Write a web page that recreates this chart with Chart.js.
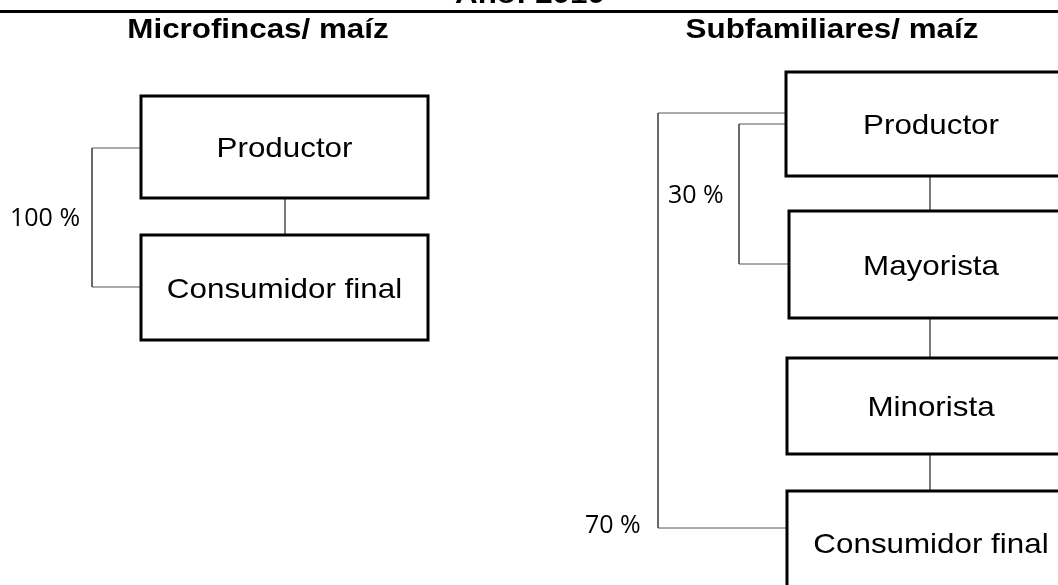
<!DOCTYPE html>
<html>
<head>
<meta charset="utf-8">
<script src="https://cdn.jsdelivr.net/npm/chart.js@4/dist/chart.umd.min.js"></script>
<style>
  body { margin: 0; background: #ffffff; }
  #wrap { width: 1058px; height: 585px; }
</style>
</head>
<body>
<div id="wrap"><canvas id="flow" width="1058" height="585"></canvas></div>
<script>
// Chart values
const yearLabel = 'Año: 2010';
const panelTitles = ['Microfincas/ maíz', 'Subfamiliares/ maíz'];
const leftNodes = ['Productor', 'Consumidor final'];
const rightNodes = ['Productor', 'Mayorista', 'Minorista', 'Consumidor final'];
const leftShares = ['100 %'];
const rightShares = ['30 %', '70 %'];

// Layout (canvas units, y grows downwards)
const leftBoxes = [
    { x0: 141, x1: 428, y0: 96, y1: 198 },
    { x0: 141, x1: 428, y0: 235, y1: 340 }
];
const rightBoxes = [
    { x0: 786, x1: 1076, y0: 72, y1: 176 },
    { x0: 789, x1: 1076, y0: 211, y1: 318 },
    { x0: 787, x1: 1076, y0: 358, y1: 454 },
    { x0: 787, x1: 1076, y0: 491, y1: 595 }
];
const leftStemX = 285;
const rightStemX = 930;
const leftBrackets = [{ x: 92, from: 148, to: 287 }];
const rightBrackets = [{ x: 739, from: 124, to: 264 }, { x: 658, from: 113, to: 528 }];
const leftShareSpots = [{ x: 10, y: 226 }];
const rightShareSpots = [{ x: 668, y: 203 }, { x: 585, y: 533 }];
const titleSpots = [{ x: 258, y: 38 }, { x: 832, y: 38 }];
const STRETCH = 1.12;

function boxPath(b) {
    return [
        { x: b.x0, y: b.y0 }, { x: b.x1, y: b.y0 },
        { x: b.x1, y: b.y1 }, { x: b.x0, y: b.y1 }, { x: b.x0, y: b.y0 }
    ];
}

function lineSet(points, color, width, cap) {
    return {
        data: points,
        showLine: true,
        borderColor: color,
        borderWidth: width,
        borderJoinStyle: 'miter',
        borderCapStyle: cap || 'butt',
        pointRadius: 0,
        tension: 0,
        fill: false,
        clip: false
    };
}

const datasets = [];
// top rule
datasets.push(lineSet([{ x: 0, y: 11.5 }, { x: 1058, y: 11.5 }], '#000000', 3));
// boxes
leftBoxes.concat(rightBoxes).forEach(b => datasets.push(lineSet(boxPath(b), '#000000', 3, 'square')));
// stems between consecutive boxes
function stems(boxes, x) {
    for (let i = 0; i < boxes.length - 1; i++) {
        datasets.push(lineSet([{ x: x, y: boxes[i].y1 }, { x: x, y: boxes[i + 1].y0 }], '#222222', 1.2));
    }
}
stems(leftBoxes, leftStemX);
stems(rightBoxes, rightStemX);
// share brackets: leave producer, go to a node further down
function bracket(br, boxFrom, boxTo) {
    datasets.push(lineSet([
        { x: boxFrom.x0, y: br.from }, { x: br.x, y: br.from },
        { x: br.x, y: br.to }, { x: boxTo.x0, y: br.to }
    ], '#555555', 1));
}
bracket(leftBrackets[0], leftBoxes[0], leftBoxes[1]);
bracket(rightBrackets[0], rightBoxes[0], rightBoxes[1]);
bracket(rightBrackets[1], rightBoxes[0], rightBoxes[3]);

function drawText(ctx, text, x, y, font, align, stretch) {
    ctx.save();
    ctx.font = font;
    ctx.fillStyle = '#000000';
    ctx.textBaseline = 'alphabetic';
    ctx.translate(x, y);
    ctx.scale(stretch, 1);
    ctx.textAlign = align;
    ctx.fillText(text, 0, 0);
    ctx.restore();
}

const labelPlugin = {
    id: 'flowLabels',
    afterDatasetsDraw(chart) {
        const ctx = chart.ctx;
        const sx = chart.scales.x, sy = chart.scales.y;
        const px = v => sx.getPixelForValue(v);
        const py = v => sy.getPixelForValue(v);
        const boldFont = 'bold 28px "Liberation Sans", Arial, sans-serif';
        const boxFont = '28px "Liberation Sans", Arial, sans-serif';
        const shareFont = '25px "Open Sans", sans-serif';

        drawText(ctx, yearLabel, px(530), py(2.5), boldFont, 'center', STRETCH);
        panelTitles.forEach((t, i) => drawText(ctx, t, px(titleSpots[i].x), py(titleSpots[i].y), boldFont, 'center', STRETCH));

        leftNodes.forEach((n, i) => {
            const b = leftBoxes[i];
            drawText(ctx, n, px((b.x0 + b.x1) / 2), py((b.y0 + b.y1) / 2 + 10), boxFont, 'center', STRETCH);
        });
        rightNodes.forEach((n, i) => {
            const b = rightBoxes[i];
            const yc = i === rightNodes.length - 1 ? 543 : (b.y0 + b.y1) / 2;
            drawText(ctx, n, px(rightStemX + 1), py(yc + 10), boxFont, 'center', STRETCH);
        });

        leftShares.forEach((s, i) => drawText(ctx, s, px(leftShareSpots[i].x), py(leftShareSpots[i].y), shareFont, 'left', 1));
        rightShares.forEach((s, i) => drawText(ctx, s, px(rightShareSpots[i].x), py(rightShareSpots[i].y), shareFont, 'left', 1));
    }
};

new Chart(document.getElementById('flow').getContext('2d'), {
    type: 'scatter',
    data: { datasets: datasets },
    options: {
        responsive: false,
        devicePixelRatio: 1,
        animation: false,
        layout: { padding: 0 },
        plugins: {
            legend: { display: false },
            tooltip: { enabled: false }
        },
        scales: {
            x: { type: 'linear', min: 0, max: 1058, display: false },
            y: { type: 'linear', min: 0, max: 585, reverse: true, display: false }
        }
    },
    plugins: [labelPlugin]
});
</script>
</body>
</html>
